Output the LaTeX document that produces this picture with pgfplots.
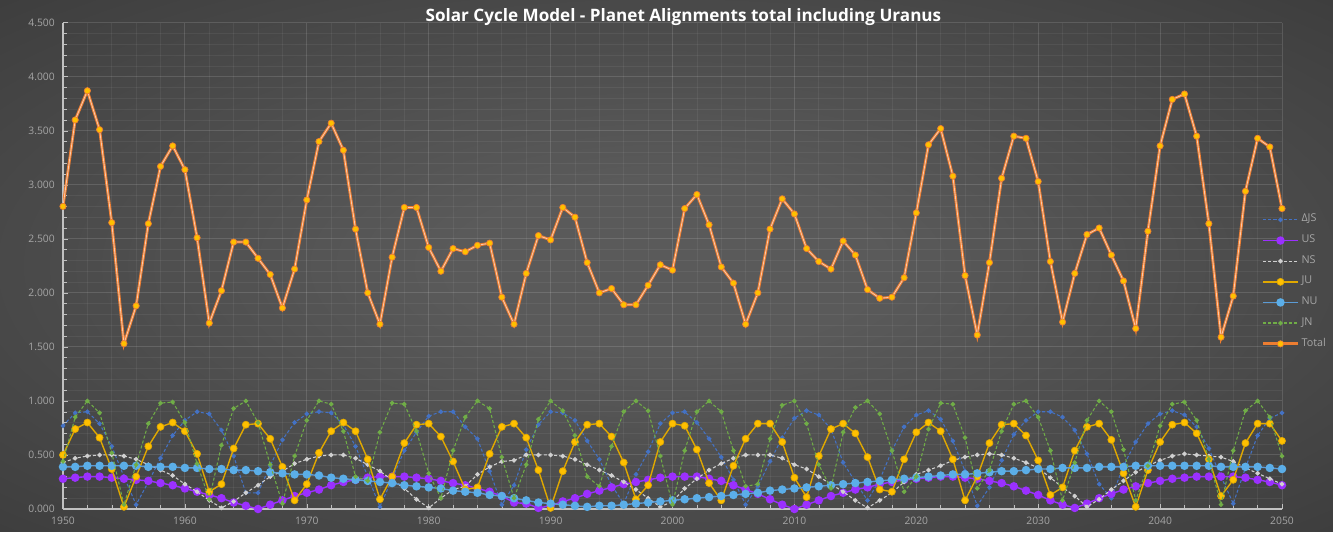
\documentclass[border=0pt]{standalone}
\usepackage{fontspec}
\setmainfont{Open Sans}
\usepackage{pgfplots}
\usepackage{pgfplotstable}
\pgfplotsset{compat=1.18}

\definecolor{cTotal}{HTML}{ED7D31}
\definecolor{cTotalHi}{HTML}{F8CBAD}
\definecolor{cGold}{HTML}{FFC000}
\definecolor{cJU}{HTML}{E0A800}
\definecolor{cNU}{HTML}{5BAEE8}
\definecolor{cNUline}{HTML}{5B9BD5}
\definecolor{cUS}{HTML}{9B30FF}
\definecolor{cDJS}{HTML}{4472C4}
\definecolor{cNS}{HTML}{D0D0D0}
\definecolor{cJN}{HTML}{70AD47}
\definecolor{cTick}{HTML}{A6A6A6}
\definecolor{bgA}{HTML}{5A5A5A}
\definecolor{bgB}{HTML}{2F2F2F}
\definecolor{bgC}{HTML}{1F1F1F}

\pgfdeclareradialshading{bgshade}{\pgfpoint{0bp}{0bp}}{color(0bp)=(bgA); color(8bp)=(bgA); color(50bp)=(bgB); color(72bp)=(bgC)}

% year, then the six alignment terms and their total
\pgfplotstableread{
year djs us ns ju nu jn total
1950 0.77 0.28 0.43 0.50 0.39 0.44 2.80
1951 0.89 0.29 0.47 0.74 0.39 0.85 3.60
1952 0.90 0.30 0.49 0.80 0.40 1.00 3.87
1953 0.79 0.30 0.50 0.66 0.40 0.89 3.51
1954 0.58 0.29 0.50 0.37 0.40 0.52 2.65
1955 0.30 0.28 0.49 0.02 0.40 0.04 1.53
1956 0.04 0.27 0.46 0.30 0.40 0.41 1.88
1957 0.25 0.26 0.41 0.58 0.39 0.79 2.64
1958 0.47 0.24 0.36 0.76 0.39 0.98 3.17
1959 0.68 0.22 0.31 0.80 0.39 0.99 3.36
1960 0.82 0.19 0.23 0.72 0.38 0.80 3.14
1961 0.90 0.16 0.16 0.51 0.38 0.42 2.51
1962 0.88 0.13 0.08 0.16 0.37 0.09 1.72
1963 0.73 0.10 0.01 0.23 0.37 0.59 2.02
1964 0.49 0.06 0.07 0.56 0.36 0.93 2.47
1965 0.15 0.03 0.15 0.78 0.36 1.00 2.47
1966 0.15 0.00 0.22 0.79 0.35 0.80 2.32
1967 0.40 0.04 0.30 0.65 0.34 0.41 2.17
1968 0.64 0.08 0.35 0.39 0.33 0.05 1.86
1969 0.80 0.12 0.42 0.08 0.32 0.49 2.22
1970 0.88 0.15 0.46 0.23 0.32 0.82 2.86
1971 0.90 0.18 0.49 0.52 0.31 1.00 3.40
1972 0.89 0.22 0.50 0.72 0.29 0.97 3.57
1973 0.78 0.25 0.50 0.80 0.28 0.72 3.32
1974 0.58 0.27 0.47 0.72 0.27 0.30 2.59
1975 0.30 0.29 0.41 0.46 0.26 0.26 2.00
1976 0.02 0.30 0.35 0.09 0.25 0.71 1.71
1977 0.28 0.30 0.27 0.30 0.24 0.98 2.33
1978 0.54 0.30 0.19 0.61 0.22 0.97 2.79
1979 0.71 0.29 0.09 0.78 0.21 0.72 2.79
1980 0.86 0.28 0.01 0.79 0.20 0.33 2.42
1981 0.90 0.26 0.10 0.67 0.19 0.10 2.20
1982 0.90 0.24 0.18 0.44 0.17 0.54 2.41
1983 0.76 0.22 0.21 0.18 0.16 0.85 2.38
1984 0.65 0.19 0.32 0.20 0.15 1.00 2.44
1985 0.35 0.16 0.39 0.51 0.13 0.93 2.46
1986 0.04 0.12 0.44 0.76 0.12 0.48 1.96
1987 0.22 0.06 0.45 0.79 0.10 0.10 1.71
1988 0.55 0.05 0.50 0.66 0.08 0.41 2.18
1989 0.78 0.01 0.50 0.36 0.06 0.83 2.53
1990 0.90 0.03 0.50 0.01 0.05 1.00 2.49
1991 0.89 0.07 0.49 0.35 0.04 0.91 2.79
1992 0.82 0.10 0.46 0.62 0.03 0.68 2.70
1993 0.63 0.14 0.41 0.78 0.02 0.30 2.28
1994 0.46 0.17 0.36 0.79 0.03 0.21 2.00
1995 0.22 0.20 0.31 0.67 0.03 0.58 2.04
1996 0.05 0.23 0.25 0.43 0.04 0.90 1.89
1997 0.32 0.25 0.18 0.09 0.05 1.00 1.89
1998 0.53 0.27 0.10 0.22 0.06 0.91 2.07
1999 0.79 0.29 0.02 0.62 0.07 0.49 2.26
2000 0.89 0.30 0.07 0.79 0.08 0.04 2.21
2001 0.90 0.30 0.19 0.77 0.09 0.54 2.78
2002 0.80 0.30 0.28 0.55 0.10 0.90 2.91
2003 0.65 0.28 0.36 0.24 0.11 1.00 2.63
2004 0.48 0.26 0.42 0.08 0.12 0.90 2.24
2005 0.27 0.22 0.47 0.40 0.13 0.54 2.09
2006 0.04 0.18 0.50 0.65 0.14 0.21 1.71
2007 0.21 0.14 0.50 0.79 0.15 0.23 2.00
2008 0.44 0.09 0.50 0.79 0.17 0.65 2.59
2009 0.66 0.04 0.47 0.62 0.18 0.96 2.87
2010 0.84 0.00 0.41 0.29 0.19 1.00 2.73
2011 0.91 0.04 0.37 0.11 0.20 0.79 2.41
2012 0.87 0.08 0.30 0.49 0.21 0.41 2.29
2013 0.74 0.12 0.23 0.74 0.22 0.19 2.22
2014 0.43 0.15 0.16 0.79 0.23 0.71 2.48
2015 0.25 0.18 0.08 0.70 0.24 0.94 2.35
2016 0.08 0.20 0.01 0.48 0.25 1.00 2.03
2017 0.27 0.23 0.08 0.18 0.26 0.88 1.95
2018 0.54 0.25 0.15 0.16 0.27 0.54 1.96
2019 0.76 0.27 0.25 0.46 0.28 0.16 2.14
2020 0.87 0.28 0.32 0.71 0.29 0.30 2.74
2021 0.91 0.29 0.36 0.80 0.30 0.74 3.37
2022 0.83 0.30 0.40 0.72 0.31 0.98 3.52
2023 0.63 0.30 0.45 0.46 0.32 0.97 3.08
2024 0.35 0.29 0.48 0.08 0.32 0.66 2.16
2025 0.03 0.28 0.50 0.30 0.33 0.19 1.61
2026 0.20 0.26 0.51 0.61 0.34 0.36 2.28
2027 0.45 0.24 0.50 0.78 0.35 0.72 3.06
2028 0.69 0.21 0.47 0.79 0.35 0.97 3.45
2029 0.82 0.17 0.43 0.68 0.36 1.00 3.43
2030 0.90 0.13 0.38 0.45 0.37 0.85 3.03
2031 0.90 0.08 0.29 0.13 0.37 0.54 2.29
2032 0.85 0.04 0.20 0.20 0.38 0.08 1.73
2033 0.73 0.01 0.12 0.54 0.38 0.43 2.18
2034 0.51 0.05 0.02 0.76 0.38 0.82 2.54
2035 0.23 0.10 0.09 0.79 0.39 1.00 2.60
2036 0.10 0.14 0.18 0.64 0.39 0.90 2.35
2037 0.40 0.18 0.26 0.33 0.39 0.55 2.11
2038 0.62 0.21 0.34 0.02 0.40 0.08 1.67
2039 0.79 0.24 0.40 0.36 0.40 0.40 2.57
2040 0.88 0.26 0.45 0.62 0.40 0.77 3.36
2041 0.91 0.28 0.49 0.78 0.40 0.97 3.79
2042 0.87 0.29 0.51 0.80 0.40 0.99 3.84
2043 0.76 0.30 0.50 0.70 0.40 0.82 3.45
2044 0.56 0.30 0.49 0.46 0.40 0.46 2.64
2045 0.30 0.30 0.48 0.12 0.39 0.04 1.59
2046 0.05 0.30 0.44 0.27 0.39 0.54 1.97
2047 0.38 0.29 0.38 0.61 0.39 0.91 2.94
2048 0.68 0.27 0.33 0.79 0.39 1.00 3.43
2049 0.84 0.25 0.28 0.79 0.38 0.85 3.35
2050 0.89 0.22 0.23 0.63 0.37 0.49 2.78
}\data

\begin{document}
\begin{tikzpicture}
\shade[shading=bgshade] (0,0) rectangle (19.995cm,7.965cm);
\begin{axis}[
    at={(0.945cm,0.33cm)}, anchor=south west,
    scale only axis, width=18.285cm, height=7.295cm,
    xmin=1950, xmax=2050, ymin=0, ymax=4.5,
    xtick distance=10, ytick distance=0.5,
    minor x tick num=4, minor y tick num=4,
    grid=both,
    major grid style={white, opacity=0.13, line width=0.4pt},
    minor grid style={white, opacity=0.06, line width=0.3pt},
    axis x line*=bottom, axis y line*=left,
    axis line style={cTick!70, line width=0.5pt, -},
    tick style={cTick!70}, tick align=inside,
    major tick length=2pt, minor tick length=1.5pt,
    ticklabel style={font=\fontsize{4.4}{5}\selectfont, text=cTick},
    /pgf/number format/assume math mode=true,
    yticklabel style={/pgf/number format/.cd, fixed, fixed zerofill, precision=3},
    xticklabel style={/pgf/number format/1000 sep={}},
    clip mode=individual,
    title={Solar Cycle Model - Planet Alignments total including Uranus},
    title style={at={(0.509,0.983)}, anchor=center, text=white,
        font=\fontsize{7.3}{8}\selectfont\bfseries},
    legend style={at={(0.983,0.612)}, anchor=north west, draw=none, fill=none,
        text=cTick, font=\fontsize{4.6}{5}\selectfont, row sep=2pt,
        inner sep=0pt, nodes={inner sep=1pt}},
    legend cell align=left,
    legend image code/.code={\draw[mark repeat=2, mark phase=2, #1]
        plot coordinates {(0cm,0cm) (0.26cm,0cm) (0.52cm,0cm)};},
]
\addplot[cDJS, line width=0.45pt, dash pattern=on 1.3pt off 0.9pt,
    mark=*, mark size=0.75pt, mark options={solid, fill=cDJS, draw=cDJS}]
    table[x=year, y=djs] {\data};
\addlegendentry{ΔJS}
\addplot[cUS, line width=0.6pt, mark=*, mark size=1.5pt,
    mark options={fill=cUS, draw=cUS}]
    table[x=year, y=us] {\data};
\addlegendentry{US}
\addplot[cNS, line width=0.45pt, dash pattern=on 1.3pt off 0.9pt,
    mark=*, mark size=0.75pt, mark options={solid, fill=cNS, draw=cNS}]
    table[x=year, y=ns] {\data};
\addlegendentry{NS}
\addplot[cJU, line width=0.6pt, mark=*, mark size=1.5pt,
    mark options={fill=cGold, draw=cJU, line width=0.3pt}]
    table[x=year, y=ju] {\data};
\addlegendentry{JU}
\addplot[cNUline, line width=0.6pt, mark=*, mark size=1.5pt,
    mark options={fill=cNU, draw=cNU}]
    table[x=year, y=nu] {\data};
\addlegendentry{NU}
\addplot[cJN, line width=0.45pt, dash pattern=on 1.3pt off 0.9pt,
    mark=*, mark size=0.75pt, mark options={solid, fill=cJN, draw=cJN}]
    table[x=year, y=jn] {\data};
\addlegendentry{JN}
% total: orange line with light core, gold markers
\addplot[forget plot, cTotal, line width=1.2pt, no marks] table[x=year, y=total] {\data};
\addplot[forget plot, cTotalHi, line width=0.35pt, no marks] table[x=year, y=total] {\data};
\addplot[forget plot, draw=none, mark=*, mark size=1.35pt,
    mark options={fill=cGold, draw=cTotal, line width=0.3pt}]
    table[x=year, y=total] {\data};
\addlegendimage{cTotal, line width=1.2pt, mark=*, mark size=1.35pt,
    mark options={fill=cGold, draw=cTotal, line width=0.3pt}}
\addlegendentry{Total}
\end{axis}
\end{tikzpicture}
\end{document}
